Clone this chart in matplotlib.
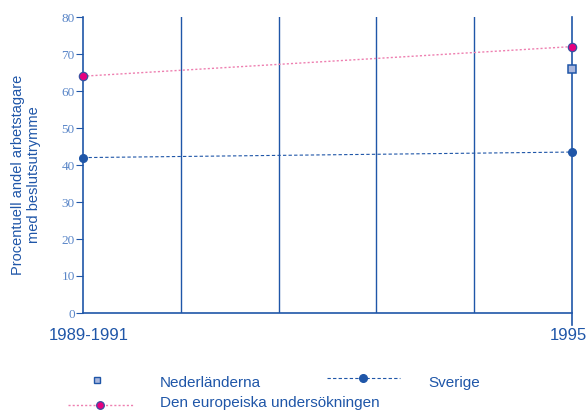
import matplotlib
matplotlib.use("Agg")
import matplotlib.pyplot as plt
from matplotlib.lines import Line2D
from matplotlib.transforms import ScaledTranslation

# Data
x_labels = ["1989-1991", "1995"]
x_pos = [0, 5]
europe = [64, 72]
sverige = [42, 43.5]
nl_x = [5]
nl = [66]
y_ticks = [0, 10, 20, 30, 40, 50, 60, 70, 80]

dark = "#1f56a8"
tickc = "#5a86c8"
pink_line = "#ee7fb0"
pink = "#e6007e"
sq_fill = "#a9b6dc"

fig = plt.figure(figsize=(5.88, 4.11), dpi=100)
ax = fig.add_axes([83/588, 1-313/411, (572-83)/588, (313-17)/411])

ax.set_xlim(0, 5)
ax.set_ylim(0, 80)
for xv in [1, 2, 3, 4]:
    ax.axvline(xv, color=dark, lw=1.0, zorder=1)
ax.plot([5, 5], [80, -3.3], color=dark, lw=1.2, clip_on=False, zorder=1)

ax.plot(x_pos, europe, color=pink_line, ls=(0, (1.5, 1.5)), lw=1.0,
        marker="o", ms=6, mfc=pink, mec="#3a4fa0", mew=0.9, clip_on=False, zorder=3)
ax.plot(x_pos, sverige, color=dark, ls=(0, (3, 2)), lw=0.8,
        marker="o", ms=5.5, mfc=dark, mec=dark, clip_on=False, zorder=3)
ax.plot(nl_x, nl, ls="none", marker="s", ms=5.5, mfc=sq_fill, mec=dark, mew=1.1,
        clip_on=False, zorder=3)

for s in ["top", "right"]:
    ax.spines[s].set_visible(False)
ax.spines["left"].set_color(dark)
ax.spines["bottom"].set_color(dark)
ax.spines["left"].set_linewidth(1.2)
ax.spines["bottom"].set_linewidth(1.2)

ax.set_yticks(y_ticks)
ax.set_yticklabels([str(v) for v in y_ticks], family="Liberation Serif",
                   fontsize=9.5, color=tickc)
ax.tick_params(axis="y", length=5, color=dark, width=0.8, pad=1)
ax.set_xticks(x_pos)
ax.set_xticklabels(x_labels, family="Liberation Sans", fontsize=12, color=dark)
ax.tick_params(axis="x", length=0, pad=11)
xl = ax.get_xticklabels()
xl[0].set_transform(xl[0].get_transform() + ScaledTranslation(6/100, 0, fig.dpi_scale_trans))
xl[1].set_transform(xl[1].get_transform() + ScaledTranslation(-4/100, 0, fig.dpi_scale_trans))

fig.text(26/588, 1-175/411, "Procentuell andel arbetstagare\nmed beslutsutrymme",
         rotation=90, ha="center", va="center", family="Liberation Sans",
         fontsize=10.5, color=dark, linespacing=1.2)

# Legend (manual)
def fx(p):
    return p/588
def fy(p):
    return 1-p/411

fig.add_artist(Line2D([fx(97)], [fy(380)], marker="s", ms=5, mfc=sq_fill,
                      mec=dark, mew=1.0, ls="none"))
fig.text(fx(160), fy(383), "Nederländerna", family="Liberation Sans", fontsize=11,
         color=dark, va="center")
fig.add_artist(Line2D([fx(327), fx(400)], [fy(378), fy(378)], color=dark,
                      ls=(0, (3, 2)), lw=0.8))
fig.add_artist(Line2D([fx(363)], [fy(378)], marker="o", ms=5.5, mfc=dark, mec=dark, ls="none"))
fig.text(fx(428), fy(383), "Sverige", family="Liberation Sans", fontsize=11,
         color=dark, va="center")
fig.add_artist(Line2D([fx(68), fx(133)], [fy(405), fy(405)], color=pink_line,
                      ls=(0, (1.5, 1.5)), lw=1.0))
fig.add_artist(Line2D([fx(100)], [fy(405)], marker="o", ms=5.5, mfc=pink,
                      mec="#3a4fa0", mew=0.9, ls="none"))
fig.text(fx(160), fy(403), "Den europeiska undersökningen", family="Liberation Sans",
         fontsize=11, color=dark, va="center")

fig.savefig("out.png", dpi=100)
